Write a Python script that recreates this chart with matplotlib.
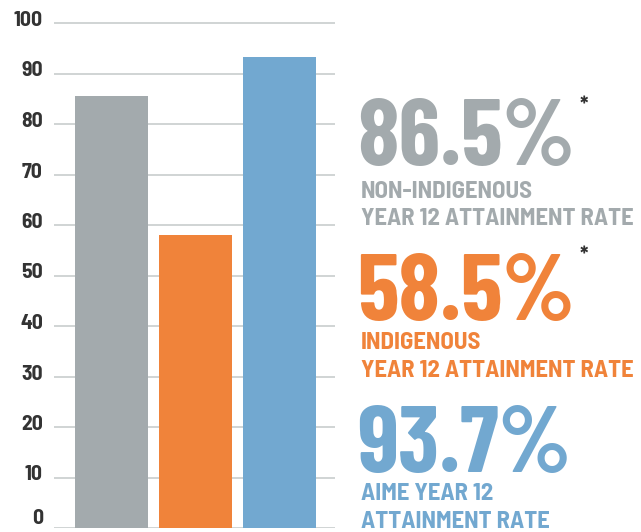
import matplotlib
matplotlib.use("Agg")
import matplotlib.pyplot as plt
from matplotlib.transforms import ScaledTranslation

# ---- data ----
categories = ["Non-Indigenous", "Indigenous", "AIME"]
values = [85.6, 58.1, 93.3]
colors = ["#a3aaad", "#f0833a", "#72a8d0"]
headlines = ["86.5%", "58.5%", "93.7%"]
subtitles = [["NON-INDIGENOUS", "YEAR 12 ATTAINMENT RATE"],
             ["INDIGENOUS", "YEAR 12 ATTAINMENT RATE"],
             ["AIME YEAR 12", "ATTAINMENT RATE"]]
starred = [True, True, False]
yticks = list(range(0, 101, 10))
ytick_labels = [str(v) for v in yticks]

W, H = 641, 532
FONT_HEAD = ['Barlow Condensed', 'Roboto Condensed', 'DejaVu Sans']
FONT_SUB = ['Barlow Semi Condensed', 'Roboto Condensed', 'DejaVu Sans']
fig = plt.figure(figsize=(W / 100, H / 100), dpi=100)

ax = fig.add_axes([54 / W, (H - 528) / H, (335 - 54) / W, (528 - 20) / H])
xpos = list(range(len(values)))
ax.bar(xpos, values, width=73 / 84, color=colors, zorder=2)
ax.set_xlim(-0.6845, 2.661)
ax.set_ylim(0, 100 * 508 / 505)
ax.set_axisbelow(True)
ax.set_yticks(yticks)
ax.set_yticklabels(ytick_labels)
ax.set_xticks([])
ax.yaxis.grid(True, color='#c3c9c9', linewidth=1.1)
for s in ax.spines.values():
    s.set_visible(False)
ax.tick_params(axis='y', length=0, pad=8)
for lab, v in zip(ax.get_yticklabels(), yticks):
    lab.set_fontfamily(FONT_SUB)
    lab.set_fontweight(700)
    lab.set_fontsize(15.5)
    lab.set_color('#333333')
    dy = 11 if v == 0 else 4.5
    lab.set_transform(lab.get_transform() + ScaledTranslation(0, dy / 100, fig.dpi_scale_trans))

# ---- right-hand text blocks ----
head_base = [165, 320, 472]
sub_base = [[198, 225], [349, 377], [500, 528]]
for i in range(len(values)):
    fig.text(357 / W, 1 - head_base[i] / H, headlines[i], fontsize=68, fontweight=700,
             family=FONT_HEAD, color=colors[i], va='baseline', ha='left')
    for j, line in enumerate(subtitles[i]):
        fig.text(361 / W, 1 - sub_base[i][j] / H, line, fontsize=17.8, fontweight=700,
                 family=FONT_SUB, color=colors[i], va='baseline', ha='left')
    if starred[i]:
        ystar = [106, 257, 0][i]
        fig.text(584 / W, 1 - ystar / H, "*", fontsize=16, fontweight=700,
                 family=FONT_SUB, color='#333333', va='center', ha='center')

fig.savefig("out.png", dpi=100)
